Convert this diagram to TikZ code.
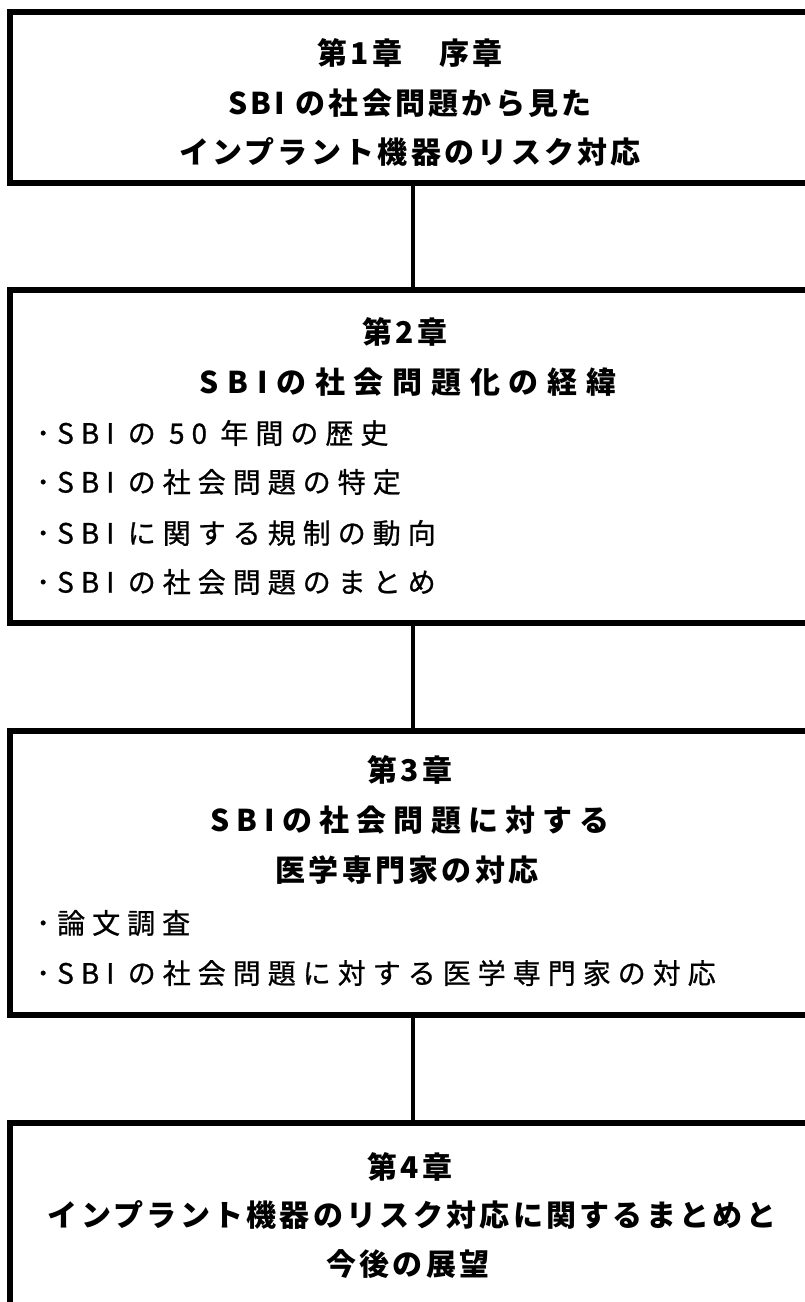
\documentclass[tikz,border=0pt]{standalone}
\usepackage{fontspec}
\setmainfont{Noto Sans CJK JP}
\newfontfamily\ttlfont[LetterSpace=11]{Noto Sans CJK JP}
\newfontfamily\widefont[LetterSpace=29]{Noto Sans CJK JP}
\newfontfamily\midfont[LetterSpace=24]{Noto Sans CJK JP}
\newfontfamily\itmfont[LetterSpace=25,FakeBold=0.8]{Noto Sans CJK JP}
\begin{document}
\begin{tikzpicture}[x=1pt,y=-1pt,
  chap/.style={draw, line width=5.5pt, rectangle, inner sep=0pt, minimum width=806pt},
  link/.style={line width=4.5pt},
  ttl/.style={inner sep=0pt, font=\ttlfont\bfseries\fontsize{30}{30}\selectfont},
  wttl/.style={inner sep=0pt, font=\widefont\bfseries\fontsize{30}{30}\selectfont},
  mttl/.style={inner sep=0pt, font=\midfont\bfseries\fontsize{30}{30}\selectfont},
  itm/.style={inner sep=0pt, anchor=west, font=\itmfont\fontsize{28}{28}\selectfont}]
\clip (0,0) rectangle (805,1302);
\fill[white] (0,0) rectangle (805,1302);
% boxes
\node[chap, minimum height=171pt] (b1) at (413,97.5) {};
\node[chap, minimum height=333pt] (b2) at (413,456.5) {};
\node[chap, minimum height=284pt] (b3) at (413,873) {};
\node[chap, minimum height=280pt] (b4) at (413,1263) {};
% connectors
\draw[link] (b1.south) -- (b2.north);
\draw[link] (b2.south) -- (b3.north);
\draw[link] (b3.south) -- (b4.north);
% box 1
\node[ttl] (t1a) at (410,53) {第1章　序章};
\node[ttl] (t1b) at (410,103) {SBI の社会問題から見た};
\node[ttl] (t1c) at (410,152) {インプラント機器のリスク対応};
% box 2
\node[ttl] (t2a) at (405,332) {第2章};
\node[wttl] (t2b) at (408,382) {SBIの社会問題化の経緯};
\node[itm] (i2a) at (36,433) {･SBI の 50 年間の歴史};
\node[itm] (i2b) at (36,482) {･SBI の社会問題の特定};
\node[itm] (i2c) at (36,533) {･SBI に関する規制の動向};
\node[itm] (i2d) at (36,582) {･SBI の社会問題のまとめ};
% box 3
\node[ttl] (t3a) at (410,770) {第3章};
\node[mttl] (t3b) at (410,820) {SBIの社会問題に対する};
\node[ttl] (t3c) at (407,870) {医学専門家の対応};
\node[itm] (i3a) at (36,923) {･論文調査};
\node[itm] (i3b) at (36,973) {･SBI の社会問題に対する医学専門家の対応};
% box 4
\node[ttl] (t4a) at (410,1167) {第4章};
\node[ttl] (t4b) at (412,1215) {インプラント機器のリスク対応に関するまとめと};
\node[ttl] (t4c) at (408,1264) {今後の展望};
\end{tikzpicture}
\end{document}
